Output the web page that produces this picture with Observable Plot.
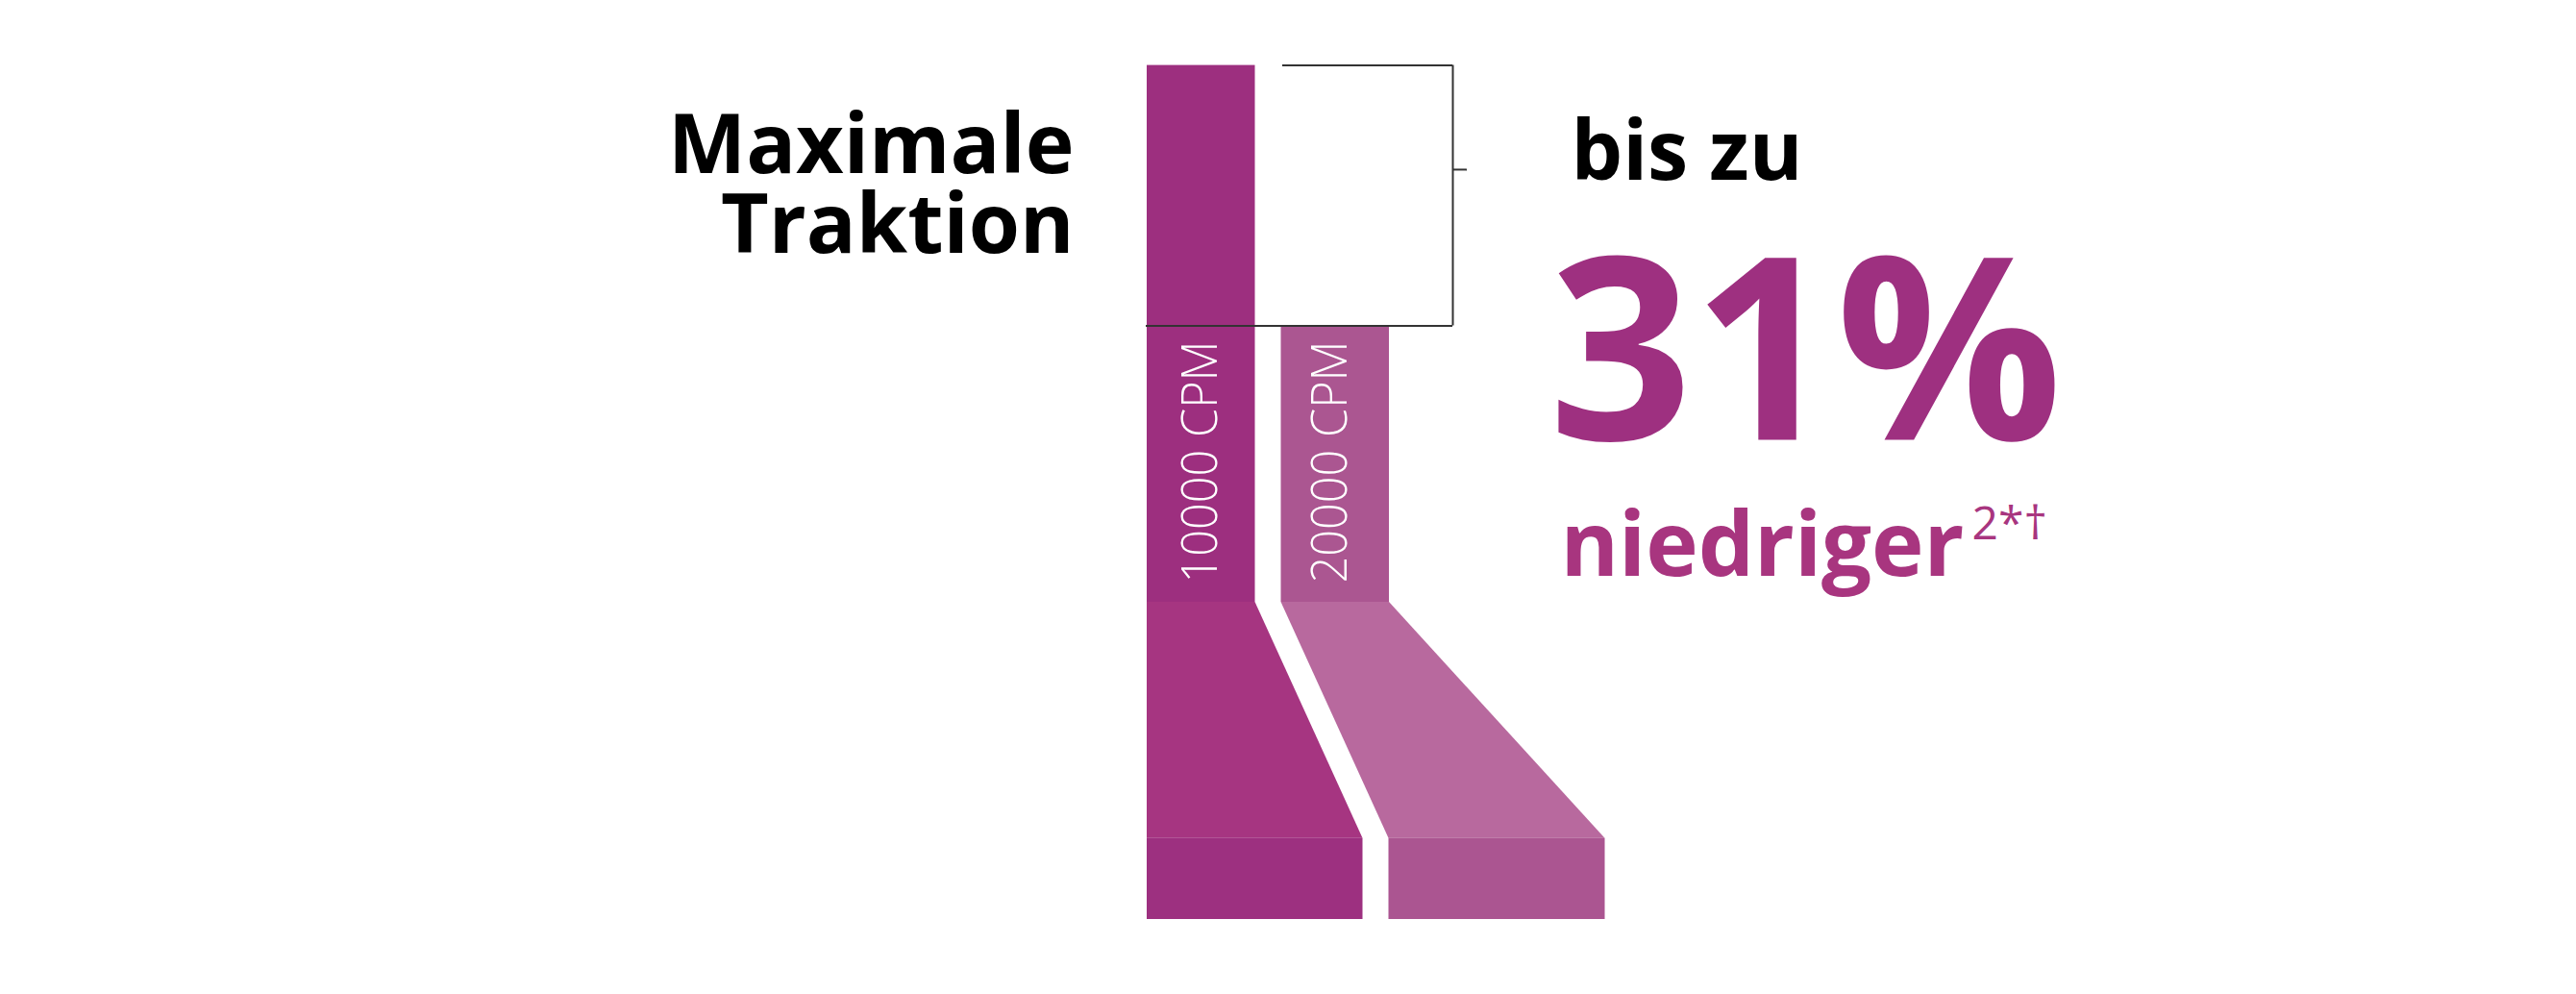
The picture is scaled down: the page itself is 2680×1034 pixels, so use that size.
<!DOCTYPE html>
<html>
<head>
<meta charset="utf-8">
<script src="https://cdn.jsdelivr.net/npm/d3@7"></script>
<script src="https://cdn.jsdelivr.net/npm/@observablehq/plot@0.6"></script>
<style>
  html, body { margin: 0; padding: 0; background: #fff; }
  #chart svg { display: block; }
</style>
</head>
<body>
<div id="chart"></div>
<script>
// ---------------- data ----------------
const categories = ["10000 CPM", "20000 CPM"];
const traction = [100, 51.5];          // relative maximal traction per speed
const reduction = [31];                 // "bis zu 31% niedriger"
const headline = ["Maximale", "Traktion"];
const leadText = ["bis zu"];
const tailText = ["niedriger"];
const footnoteMarks = ["2*\u2020"];

// ---------------- layout / style ----------------
const W = 2680, H = 1034;
const yDomain = [-59.1, 100], yRange = [956, 67.6];
const flareEnd = -44.0;                 // bottom of the flared part (value units)
const baseEnd = -59.1;                  // bottom of the foot
const barLeft = [1193, 1332.5], barWidth = 112.5;
const shiftL = [0, 112], shiftR = [112, 224.5];
const colTop = ["#9d2f7f", "#ab5691"];
const colFlare = ["#a63581", "#b8699e"];
const colBase = ["#9d3080", "#ab5591"];
const purple = "#9e3080", purpleLight = "#a8357f";
const bracketX = 1511, bracketStart = 1334, tickValue = 80.6, tickLen = 15;
const lineColor = "#333";

const bars = categories.map((c, i) => ({
  cat: c, value: traction[i], x1: barLeft[i], x2: barLeft[i] + barWidth, i
}));

const marks = [];
bars.forEach((b, i) => {
  marks.push(Plot.rect([b], {x1: "x1", x2: "x2", y1: 0, y2: "value", fill: colTop[i]}));
  marks.push(Plot.areaX([
    {y: 0, x1: b.x1, x2: b.x2},
    {y: flareEnd, x1: b.x1 + shiftL[i], x2: b.x2 + shiftR[i]}
  ], {y: "y", x1: "x1", x2: "x2", fill: colFlare[i]}));
  marks.push(Plot.rect([b], {x1: d => d.x1 + shiftL[i], x2: d => d.x2 + shiftR[i], y1: flareEnd, y2: baseEnd, fill: colBase[i]}));
});

// rotated category labels
marks.push(Plot.text(bars, {
  x: d => (d.x1 + d.x2) / 2 - (d.i ? 5 : 0), y: 3.6, text: "cat", rotate: -90,
  textAnchor: "start", lineAnchor: "middle", fill: "white",
  fontSize: 52, fontWeight: 300, fontFamily: "Open Sans"
}));

// bracket
marks.push(Plot.ruleY([traction[0]], {x1: bracketStart, x2: bracketX, stroke: lineColor, strokeWidth: 2}));
marks.push(Plot.ruleX([bracketX], {y1: traction[1], y2: traction[0], stroke: lineColor, strokeWidth: 2}));
marks.push(Plot.ruleY([traction[1]], {x1: barLeft[0] - 1, x2: bracketX, stroke: lineColor, strokeWidth: 2}));
marks.push(Plot.ruleY([tickValue], {x1: bracketX, x2: bracketX + tickLen, stroke: lineColor, strokeWidth: 2}));

// texts
marks.push(Plot.text([headline.join("\n")], {
  frameAnchor: "top-left", dx: 1117, dy: 262, text: d => d, textAnchor: "end", lineAnchor: "bottom",
  lineHeight: 0.96, fontSize: 86, fontWeight: 700, fill: "#000", fontFamily: "Open Sans"
}));
marks.push(Plot.text(leadText, {
  frameAnchor: "top-left", dx: 1634, dy: 186, text: d => d, textAnchor: "start", lineAnchor: "bottom",
  fontSize: 86, fontWeight: 700, fill: "#000", fontFamily: "Open Sans"
}));
marks.push(Plot.text(reduction, {
  frameAnchor: "top-left", dx: 1611, dy: 457, text: d => `${d}%`, textAnchor: "start", lineAnchor: "bottom",
  fontSize: 265, fontWeight: 700, fill: purple, fontFamily: "Open Sans"
}));
marks.push(Plot.text(tailText, {
  frameAnchor: "top-left", dx: 1623, dy: 598, text: d => d, textAnchor: "start", lineAnchor: "bottom",
  fontSize: 93, fontWeight: 700, fill: purpleLight, fontFamily: "Open Sans"
}));
marks.push(Plot.text(footnoteMarks, {
  frameAnchor: "top-left", dx: 2051, dy: 560, text: d => d, textAnchor: "start", lineAnchor: "bottom",
  fontSize: 48, fontWeight: 400, fill: purpleLight, fontFamily: "Open Sans"
}));

const svg = Plot.plot({
  width: W, height: H,
  margin: 0, marginTop: 0, marginRight: 0, marginBottom: 0, marginLeft: 0,
  x: {domain: [0, W], range: [0, W], axis: null},
  y: {domain: yDomain, range: yRange, axis: null},
  style: {fontFamily: "Open Sans", background: "white"},
  marks
});

document.getElementById("chart").appendChild(svg);

// fit text widths to the reference (horizontal squeeze about the left edge;
// vertical squeeze about the bottom edge for the rotated labels)
const fitWidths = {"bis zu": 241, "31%": 534, "niedriger": 420};
const fitHeights = {"10000 CPM": 252, "20000 CPM": 252};
svg.querySelectorAll("text").forEach(t => {
  const key = t.textContent;
  if (!fitWidths[key] && !fitHeights[key]) return;
  const r = t.getBoundingClientRect();
  const inv = t.parentNode.getScreenCTM().inverse();
  const p0 = new DOMPoint(r.left, r.top).matrixTransform(inv);
  const p1 = new DOMPoint(r.right, r.bottom).matrixTransform(inv);
  const w = p1.x - p0.x, h = p1.y - p0.y;
  let tf;
  if (fitWidths[key]) {
    const s = fitWidths[key] / w, L = p0.x;
    tf = `translate(${L},0) scale(${s},1) translate(${-L},0)`;
  } else {
    const s = fitHeights[key] / h, B = p1.y;
    tf = `translate(0,${B}) scale(1,${s}) translate(0,${-B})`;
  }
  const g = document.createElementNS("http://www.w3.org/2000/svg", "g");
  g.setAttribute("transform", tf);
  t.parentNode.insertBefore(g, t);
  g.appendChild(t);
});
</script>
</body>
</html>
